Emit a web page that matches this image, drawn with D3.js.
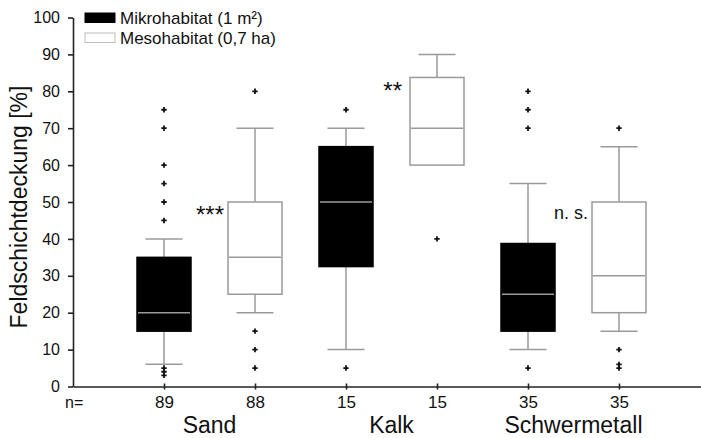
<!DOCTYPE html>
<html>
<head>
<meta charset="utf-8">
<script src="https://cdn.jsdelivr.net/npm/d3@7/dist/d3.min.js"></script>
<style>
  html, body { margin: 0; padding: 0; background: #fff; }
  svg { display: block; }
  text { font-family: "Liberation Sans", Arial, sans-serif; fill: #111; }
</style>
</head>
<body>
<svg id="chart" width="701" height="438"></svg>
<script>
// Soil types and habitat scales
const categories = ["Sand", "Kalk", "Schwermetall"];
const series = ["Mikrohabitat (1 m²)", "Mesohabitat (0,7 ha)"];

// One box per (category, series), ordered Sand-Mikro, Sand-Meso, Kalk-Mikro, ...
const nCounts     = [89, 88, 15, 15, 35, 35];
const whiskerLow  = [6, 20, 10, 60, 10, 15];
const q1          = [15, 25, 32.5, 60, 15, 20];
const median      = [20, 35, 50, 70, 25, 30];
const q3          = [35, 50, 65, 83.75, 38.75, 50];
const whiskerHigh = [40, 70, 70, 90, 55, 65];
const outliers = [
  [45, 50, 55, 60, 70, 75, 5, 4, 3],
  [80, 15, 10, 5],
  [75, 5],
  [40],
  [70, 75, 80, 5],
  [70, 10, 6, 5]
];
// Significance of Mikro vs. Meso per category
const significance = ["***", "**", "n. s."];

const yTicks = d3.range(0, 101, 10);

const svg = d3.select("#chart");
const x = d3.scaleLinear().domain([0, 7]).range([73, 710]);
const y = d3.scaleLinear().domain([0, 100]).range([386.5, 17.5]);

const boxW = 54, capW = 37;
const grey = "#9a9a9a";

// Y axis
const yAxis = svg.append("g")
  .attr("transform", `translate(${x(0)},0)`)
  .call(d3.axisLeft(y).tickValues(yTicks).tickSizeInner(5).tickSizeOuter(0).tickPadding(8));
yAxis.selectAll("path, line").attr("stroke", "#222").attr("stroke-width", 1.6);
yAxis.selectAll("text").style("font-size", "16px").attr("fill", "#111");

// X axis with sample sizes as tick labels
const boxes = d3.range(nCounts.length);
const xAxis = svg.append("g")
  .attr("transform", `translate(0,${y(0)})`)
  .call(d3.axisBottom(x).tickValues(boxes.map(i => i + 1))
    .tickFormat((d, i) => nCounts[i]).tickSizeInner(3).tickSizeOuter(0));
xAxis.selectAll("path, line").attr("stroke", "#222").attr("stroke-width", 1.6);
xAxis.selectAll(".tick line").attr("y1", -3);
xAxis.selectAll("text").style("font-size", "17px").attr("y", 21).attr("dy", 0).attr("fill", "#111");

svg.append("text").attr("x", 65).attr("y", y(0) + 21)
  .style("font-size", "16px").text("n=");

// Category labels, centred under each pair of boxes
svg.selectAll(".cat").data(categories).join("text")
  .attr("class", "cat")
  .attr("x", (d, i) => (x(2 * i + 1) + x(2 * i + 2)) / 2)
  .attr("y", y(0) + 46)
  .attr("text-anchor", "middle")
  .style("font-size", "23px")
  .text(d => d);

// Y axis title
svg.append("text")
  .attr("transform", `translate(27,${207}) rotate(-90)`)
  .attr("text-anchor", "middle")
  .style("font-size", "23px")
  .text("Feldschichtdeckung [%]");

// Boxes
const g = svg.selectAll(".box").data(boxes).join("g").attr("class", "box");
const isMikro = i => i % 2 === 0;

// whiskers
g.append("line")
  .attr("x1", i => x(i + 1)).attr("x2", i => x(i + 1))
  .attr("y1", i => y(q3[i])).attr("y2", i => y(whiskerHigh[i]))
  .attr("stroke", grey).attr("stroke-width", 1.5);
g.append("line")
  .attr("x1", i => x(i + 1)).attr("x2", i => x(i + 1))
  .attr("y1", i => y(q1[i])).attr("y2", i => y(whiskerLow[i]))
  .attr("stroke", grey).attr("stroke-width", 1.5);
// caps
g.filter(i => whiskerHigh[i] > q3[i]).append("line")
  .attr("x1", i => x(i + 1) - capW / 2).attr("x2", i => x(i + 1) + capW / 2)
  .attr("y1", i => y(whiskerHigh[i])).attr("y2", i => y(whiskerHigh[i]))
  .attr("stroke", grey).attr("stroke-width", 1.5);
g.filter(i => whiskerLow[i] < q1[i]).append("line")
  .attr("x1", i => x(i + 1) - capW / 2).attr("x2", i => x(i + 1) + capW / 2)
  .attr("y1", i => y(whiskerLow[i])).attr("y2", i => y(whiskerLow[i]))
  .attr("stroke", grey).attr("stroke-width", 1.5);
// interquartile box
g.append("rect")
  .attr("x", i => x(i + 1) - boxW / 2).attr("width", boxW)
  .attr("y", i => y(q3[i])).attr("height", i => y(q1[i]) - y(q3[i]))
  .attr("fill", i => isMikro(i) ? "#000" : "#fff")
  .attr("stroke", i => isMikro(i) ? "#000" : grey)
  .attr("stroke-width", 1.5);
// median
g.append("line")
  .attr("x1", i => x(i + 1) - boxW / 2 + 1).attr("x2", i => x(i + 1) + boxW / 2 - 1)
  .attr("y1", i => y(median[i])).attr("y2", i => y(median[i]))
  .attr("stroke", grey).attr("stroke-width", 1.5);
// outliers
const cross = d3.symbol().type(d3.symbolCross).size(16);
g.each(function (i) {
  d3.select(this).selectAll(".out").data(outliers[i]).join("path")
    .attr("class", "out")
    .attr("d", cross)
    .attr("transform", v => `translate(${x(i + 1)},${y(v)})`)
    .attr("fill", "#111");
});

// Significance labels, left of each Meso box near the top of its box
const sigPos = [
  { box: 1, size: 24, gap: 4, dy: 21 },
  { box: 3, size: 24, gap: 8, dy: 22 },
  { box: 5, size: 18, gap: 4, dy: 17 }
];
svg.selectAll(".sig").data(significance).join("text")
  .attr("class", "sig")
  .attr("x", (d, i) => x(sigPos[i].box + 1) - boxW / 2 - sigPos[i].gap)
  .attr("y", (d, i) => y(q3[sigPos[i].box]) + sigPos[i].dy)
  .attr("text-anchor", "end")
  .style("font-size", (d, i) => sigPos[i].size + "px")
  .text(d => d);

// Legend
const legend = svg.append("g").attr("transform", "translate(85,13)");
series.forEach((s, i) => {
  legend.append("rect")
    .attr("x", 0).attr("y", i * 20).attr("width", 30).attr("height", 9.5)
    .attr("fill", i === 0 ? "#000" : "#fff")
    .attr("stroke", i === 0 ? "#000" : "#bbb").attr("stroke-width", 1);
  legend.append("text")
    .attr("x", 35).attr("y", i * 20 + 10.5)
    .style("font-size", "17px")
    .text(s);
});
</script>
</body>
</html>
